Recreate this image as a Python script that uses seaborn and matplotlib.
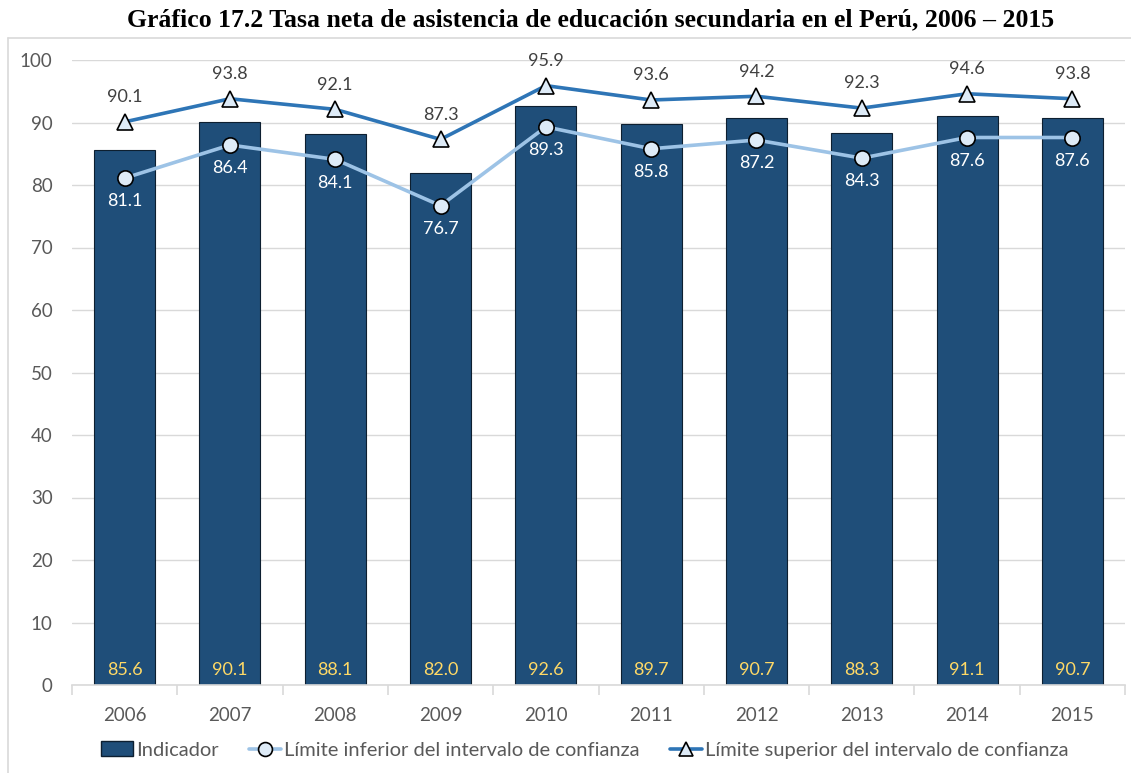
import matplotlib
matplotlib.use("Agg")
import matplotlib.pyplot as plt
from matplotlib.lines import Line2D
from matplotlib.patches import Patch
import seaborn as sns
import numpy as np

years = ["2006", "2007", "2008", "2009", "2010", "2011", "2012", "2013", "2014", "2015"]
indicador = [85.6, 90.1, 88.1, 82.0, 92.6, 89.7, 90.7, 88.3, 91.1, 90.7]
lim_inf = [81.1, 86.4, 84.1, 76.7, 89.3, 85.8, 87.2, 84.3, 87.6, 87.6]
lim_sup = [90.1, 93.8, 92.1, 87.3, 95.9, 93.6, 94.2, 92.3, 94.6, 93.8]
yticks = [0, 10, 20, 30, 40, 50, 60, 70, 80, 90, 100]
title = "Gráfico 17.2 Tasa neta de asistencia de educación secundaria en el Perú, 2006 – 2015"

sns.set_theme(style="white")
plt.rcParams['font.family'] = ['Lato', 'DejaVu Sans']

BAR = "#1F4E79"
LOW = "#9DC3E6"
UP = "#2E75B6"
FACE = "#DEEBF7"
GRAY = "#595959"

fig = plt.figure(figsize=(11.31, 7.73), dpi=100)
ax = fig.add_axes([72/1131, 1-685/773, (1125-72)/1131, (685-60)/773])

sns.barplot(x=years, y=indicador, color=BAR, width=0.58, edgecolor="#0d1f30",
            linewidth=0.8, saturation=1, ax=ax, zorder=2)
xs = np.arange(len(years))
ax.plot(xs, lim_inf, color=LOW, lw=2.6, marker='o', ms=11, mfc=FACE, mec="black",
        mew=1.2, zorder=4)
ax.plot(xs, lim_sup, color=UP, lw=2.6, marker='^', ms=11, mfc=FACE, mec="black",
        mew=1.2, zorder=4)

for i in range(len(years)):
    ax.annotate(f"{indicador[i]:.1f}", (xs[i], 0), xytext=(0, 5), textcoords="offset points",
                ha="center", va="bottom", color="#FFD966", fontsize=13)
    ax.annotate(f"{lim_inf[i]:.1f}", (xs[i], lim_inf[i]), xytext=(0, -11), textcoords="offset points",
                ha="center", va="top", color="white", fontsize=13)
    ax.annotate(f"{lim_sup[i]:.1f}", (xs[i], lim_sup[i]), xytext=(0, 12), textcoords="offset points",
                ha="center", va="bottom", color="#404040", fontsize=13)

ax.set_ylim(0, 100)
ax.set_xlim(-0.5, len(years) - 0.5)
ax.set_yticks(yticks)
ax.yaxis.grid(True, color="#D9D9D9", lw=1)
ax.set_axisbelow(True)
for s in ["top", "right", "left"]:
    ax.spines[s].set_visible(False)
ax.spines["bottom"].set_color("#D9D9D9")
ax.spines["bottom"].set_linewidth(1.2)
ax.set_xticks(np.arange(-0.5, len(years), 1), minor=True)
ax.tick_params(axis="x", which="minor", length=7, color="#D9D9D9", width=1.2, bottom=True)
ax.tick_params(axis="x", which="major", length=0, pad=16, labelsize=13.5, labelcolor=GRAY)
ax.tick_params(axis="y", length=0, pad=14, labelsize=13.5, labelcolor=GRAY)
ax.set_xlabel("")
ax.set_ylabel("")

handles = [
    Patch(facecolor=BAR, edgecolor="#0d1f30", label="Indicador"),
    Line2D([], [], color=LOW, lw=2.6, marker='o', ms=10, mfc=FACE, mec="black", mew=1.2,
           label="Límite inferior del intervalo de confianza"),
    Line2D([], [], color=UP, lw=2.6, marker='^', ms=10, mfc=FACE, mec="black", mew=1.2,
           label="Límite superior del intervalo de confianza"),
]
leg = fig.legend(handles=handles, loc="center", bbox_to_anchor=(0.517, 1-750/773), ncol=3,
                 frameon=False, fontsize=14.5, handlelength=1.6, handletextpad=0.15,
                 columnspacing=1.5, labelcolor=GRAY)

# outer chart border
fig.add_artist(Line2D([8/1131, 1], [1-38/773, 1-38/773], color="#D9D9D9", lw=1.2))
fig.add_artist(Line2D([8/1131, 8/1131], [0, 1-38/773], color="#D9D9D9", lw=1.2))

fig.text(0.522, 1-20/773, title, ha="center", va="center", fontsize=18.5, fontweight="bold",
         family=["Liberation Serif", "DejaVu Serif"], color="black")

fig.savefig("out.png", dpi=100)
